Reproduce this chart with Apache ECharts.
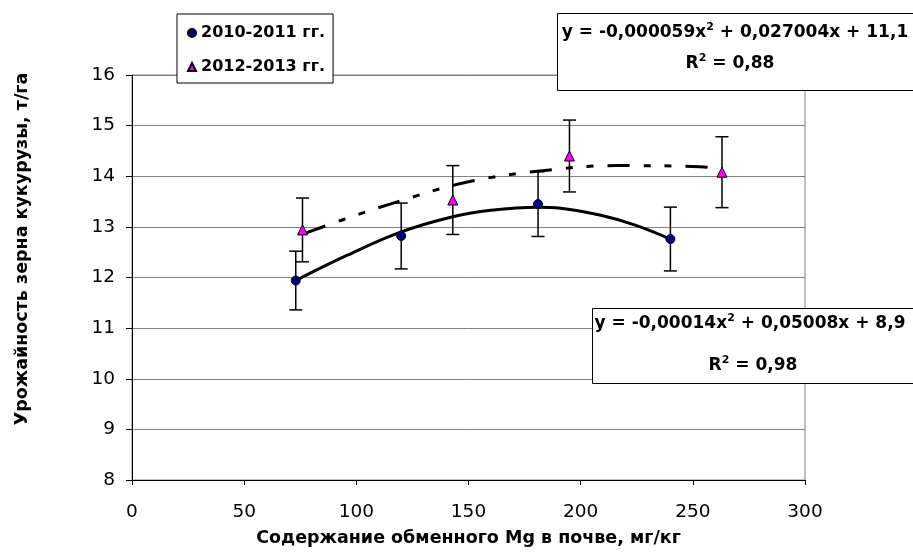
<!DOCTYPE html>
<html><head><meta charset="utf-8">
<script src="https://cdn.jsdelivr.net/npm/echarts@6/dist/echarts.min.js"></script>
<style>html,body{margin:0;padding:0;background:#fff}#c{width:913px;height:560px}</style>
</head><body><div id="c"></div>
<script>
// ---- data ----
const seriesNames = ['2010-2011 гг.', '2012-2013 гг.'];
const mg2010 = [73, 120, 181, 240];
const yield2010 = [11.94, 12.82, 13.45, 12.76];
const err2010 = [0.58, 0.65, 0.64, 0.63];
const mg2012 = [76, 143, 195, 263];
const yield2012 = [12.94, 13.53, 14.40, 14.08];
const err2012 = [0.63, 0.68, 0.71, 0.70];
// trend curves
const trend2010X = [73, 96, 120, 143, 160, 181, 191, 209, 224, 240];
const trend2010Y = [11.94, 12.44, 12.90, 13.20, 13.33, 13.39, 13.37, 13.23, 13.04, 12.76];
const trend2012X = [77, 94, 115, 149, 183, 216, 253, 263];
const trend2012Y = [12.87, 13.14, 13.45, 13.88, 14.11, 14.21, 14.19, 14.14];
const xAxisTicks = { min: 0, max: 300, interval: 50 };
const yAxisTicks = { min: 8, max: 16, interval: 1 };
const eq2010 = ['y = -0,00014x', '2', ' + 0,05008x + 8,9'];
const r2010 = '0,98';
const eq2012 = ['y = -0,000059x', '2', ' + 0,027004x + 11,1'];
const r2012 = '0,88';
const xTitle = 'Содержание обменного Mg в почве, мг/кг';
const yTitle = 'Урожайность зерна кукурузы, т/га';

const FONT = 'DejaVu Sans';
const chart = echarts.init(document.getElementById('c'), null, { renderer: 'canvas' });

function pairs(xs, ys) { return xs.map((x, i) => [x, ys[i]]); }
function errData(xs, ys, es) { return xs.map((x, i) => [x, ys[i], es[i]]); }
function errRender(params, api) {
  const x = api.value(0), y = api.value(1), e = api.value(2);
  const t = api.coord([x, y + e]);
  const b = api.coord([x, y - e]);
  const w = 6.5;
  const st = { stroke: '#000', lineWidth: 1.5 };
  return {
    type: 'group',
    children: [
      { type: 'line', shape: { x1: t[0], y1: t[1], x2: b[0], y2: b[1] }, style: st },
      { type: 'line', shape: { x1: t[0] - w, y1: t[1], x2: t[0] + w, y2: t[1] }, style: st },
      { type: 'line', shape: { x1: b[0] - w, y1: b[1], x2: b[0] + w, y2: b[1] }, style: st }
    ]
  };
}
function eqBox(x, y, w, h, eq, r2, cx1, cy1, cx2, cy2) {
  const rich = {
    a: { fontFamily: FONT, fontSize: 17, fontWeight: 'bold', fill: '#000', lineHeight: 22 },
    b: { fontFamily: FONT, fontSize: 11, fontWeight: 'bold', fill: '#000', lineHeight: 12, verticalAlign: 'top' }
  };
  return [
    { type: 'rect', z: 100, shape: { x: x + 0.5, y: y + 0.5, width: w, height: h }, style: { fill: '#fff', stroke: '#000', lineWidth: 1 } },
    { type: 'text', z: 101, x: cx1, y: cy1, style: { text: '{a|' + eq[0] + '}{b|' + eq[1] + '}{a|' + eq[2] + '}', rich: rich, align: 'center', verticalAlign: 'middle' } },
    { type: 'text', z: 101, x: cx2, y: cy2, style: { text: '{a|R}{b|2}{a| = ' + r2 + '}', rich: rich, align: 'center', verticalAlign: 'middle' } }
  ];
}

const option = {
  animation: false,
  backgroundColor: '#fff',
  grid: { left: 132, right: 108, top: 75, bottom: 80, show: true, borderColor: '#808080', borderWidth: 1 },
  legend: {
    left: 177, top: 14, orient: 'vertical',
    itemWidth: 8, itemHeight: 8, itemGap: 14,
    padding: [9, 8, 6, 10],
    borderColor: '#000', borderWidth: 1, backgroundColor: '#fff',
    textStyle: { fontFamily: FONT, fontWeight: 'bold', fontSize: 16, color: '#000', lineHeight: 20 },
    data: [{ name: seriesNames[0], icon: 'circle' }, { name: seriesNames[1], icon: 'triangle' }],
    z: 50
  },
  xAxis: {
    type: 'value', min: xAxisTicks.min, max: xAxisTicks.max, interval: xAxisTicks.interval,
    name: xTitle, nameLocation: 'middle', nameGap: 49,
    nameTextStyle: { fontFamily: FONT, fontWeight: 'bold', fontSize: 17.5, color: '#000' },
    axisLine: { show: true, onZero: false, lineStyle: { color: '#000', width: 1 } },
    axisTick: { show: true, inside: false, length: 5, lineStyle: { color: '#000' } },
    axisLabel: { fontFamily: FONT, fontSize: 18.5, color: '#000', margin: 23 },
    splitLine: { show: false }
  },
  yAxis: {
    type: 'value', min: yAxisTicks.min, max: yAxisTicks.max, interval: yAxisTicks.interval,
    axisLine: { show: true, onZero: false, lineStyle: { color: '#000', width: 1 } },
    axisTick: { show: true, inside: false, length: 6, lineStyle: { color: '#000' } },
    axisLabel: { fontFamily: FONT, fontSize: 18.5, color: '#000', margin: 17 },
    splitLine: { show: true, lineStyle: { color: '#808080', width: 1 } }
  },
  graphic: {
    z: 100,
    elements: [
      { type: 'text', x: 22, y: 249, rotation: Math.PI / 2, z: 10,
        style: { text: yTitle, fontFamily: FONT, fontWeight: 'bold', fontSize: 17.5, fill: '#000', align: 'center', verticalAlign: 'middle' } }
    ].concat(
      eqBox(557, 13, 400, 77, eq2012, r2012, 735, 33, 730, 64),
      eqBox(592, 308, 400, 75, eq2010, r2010, 750, 324, 753, 366)
    )
  },
  series: [
    { type: 'custom', name: 'err2010', renderItem: errRender, data: errData(mg2010, yield2010, err2010), z: 2 },
    { type: 'custom', name: 'err2012', renderItem: errRender, data: errData(mg2012, yield2012, err2012), z: 2 },
    { type: 'line', name: 'trend2010', data: pairs(trend2010X, trend2010Y), smooth: 0.4, showSymbol: false, silent: true,
      lineStyle: { color: '#000', width: 3 }, z: 3 },
    { type: 'line', name: 'trend2012', data: pairs(trend2012X, trend2012Y), smooth: 0.4, showSymbol: false, silent: true,
      lineStyle: { color: '#000', width: 3, type: [22, 14, 7, 14, 7, 14] }, z: 3 },
    { type: 'scatter', name: seriesNames[0], data: pairs(mg2010, yield2010), symbol: 'circle', symbolSize: 9,
      itemStyle: { color: '#000080', borderColor: '#000', borderWidth: 1, opacity: 1 }, z: 5 },
    { type: 'scatter', name: seriesNames[1], data: pairs(mg2012, yield2012), symbol: 'triangle', symbolSize: 10,
      itemStyle: { color: '#FF00FF', borderColor: '#000', borderWidth: 1, opacity: 1 }, z: 5 }
  ]
};
chart.setOption(option);
</script>
</body></html>
